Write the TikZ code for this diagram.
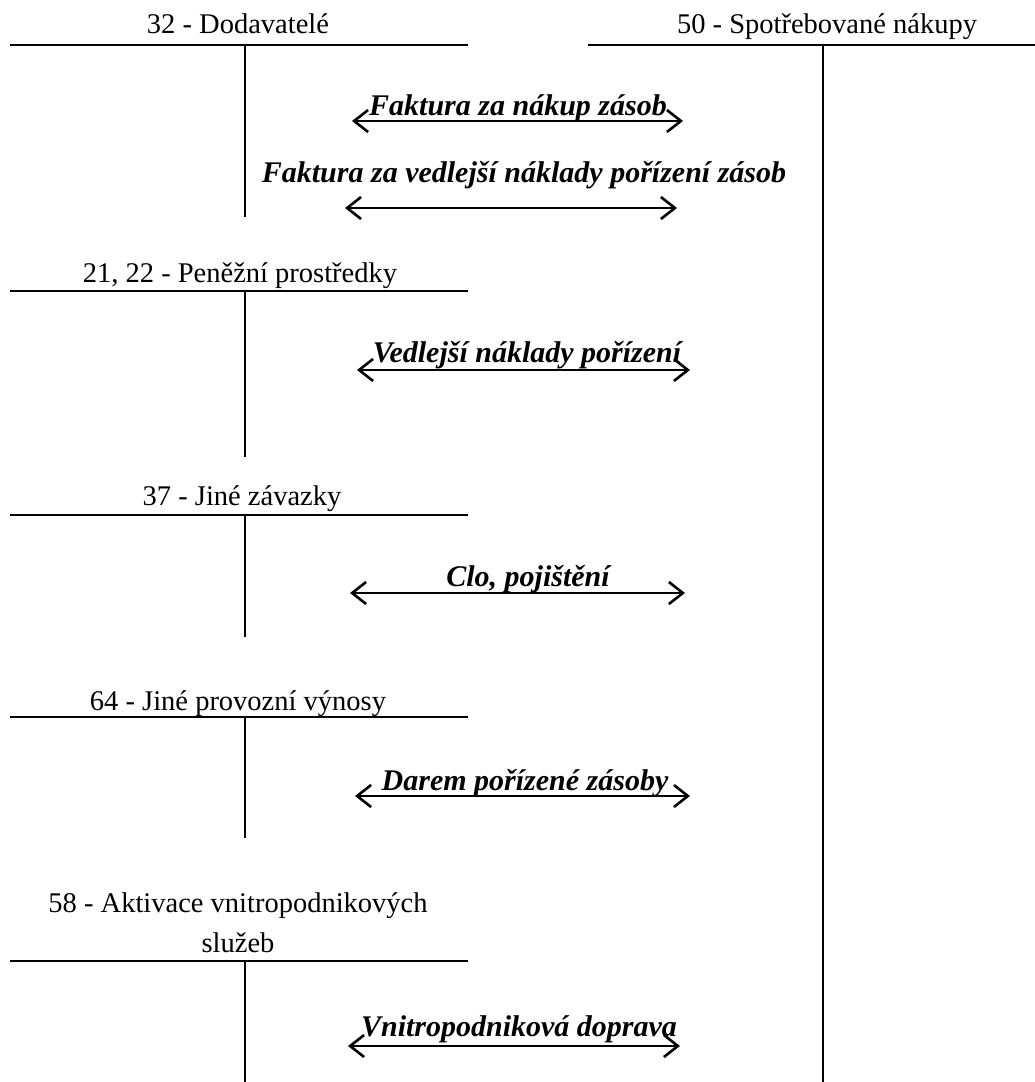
\documentclass[tikz,border=0pt]{standalone}
\usepackage{fontspec}
\setmainfont{Liberation Serif}
\usetikzlibrary{arrows.meta}
\begin{document}
\begin{tikzpicture}[x=1pt, y=-1pt,
    acct/.style={line width=1.6pt},
    flow/.style={{Straight Barb[length=14pt,width=22pt]}-{Straight Barb[length=14pt,width=22pt]}, line width=2.6pt},
    title/.style={font=\fontsize{28.5}{40}\selectfont, inner sep=0pt, anchor=base, align=center},
    entry/.style={font=\fontsize{30}{36}\selectfont\bfseries\itshape, inner sep=0pt, anchor=base}]
    \useasboundingbox (0,0) rectangle (1035,1082);
    % accounts
    \node[title] (t32) at (238,33) {32 - Dodavatelé};
    \draw[acct] (10,45) -- (468,45);
    \draw[acct] (245,45) -- (245,217);
    \node[title] (t50) at (827,33) {50 - Spotřebované nákupy};
    \draw[acct] (588,45) -- (1035,45);
    \draw[acct] (823,45) -- (823,1082);
    \node[title] (t21) at (240,282) {21, 22 - Peněžní prostředky};
    \draw[acct] (10,291) -- (468,291);
    \draw[acct] (245,291) -- (245,457);
    \node[title] (t37) at (242,505) {37 - Jiné závazky};
    \draw[acct] (10,515) -- (468,515);
    \draw[acct] (245,515) -- (245,637);
    \node[title] (t64) at (238,710) {64 - Jiné provozní výnosy};
    \draw[acct] (10,717) -- (468,717);
    \draw[acct] (245,717) -- (245,838);
    \node[title] (t58) at (238,952) {58 - Aktivace vnitropodnikových\\služeb};
    \draw[acct] (10,961) -- (468,961);
    \draw[acct] (245,961) -- (245,1082);
    % postings
    \coordinate (f1a) at (352,121); \coordinate (f1b) at (683,121);
    \draw[flow] (f1a) -- (f1b);
    \node[entry] (e1) at (518,115) {Faktura za nákup zásob};
    \coordinate (f2a) at (345,208); \coordinate (f2b) at (677,208);
    \draw[flow] (f2a) -- (f2b);
    \node[entry] (e2) at (524,182) {Faktura za vedlejší náklady pořízení zásob};
    \coordinate (f3a) at (357,370); \coordinate (f3b) at (690,370);
    \draw[flow] (f3a) -- (f3b);
    \node[entry] (e3) at (527,362) {Vedlejší náklady pořízení};
    \coordinate (f4a) at (350,593); \coordinate (f4b) at (685,593);
    \draw[flow] (f4a) -- (f4b);
    \node[entry] (e4) at (528,586) {Clo, pojištění};
    \coordinate (f5a) at (355,796); \coordinate (f5b) at (690,796);
    \draw[flow] (f5a) -- (f5b);
    \node[entry] (e5) at (525,790) {Darem pořízené zásoby};
    \coordinate (f6a) at (348,1046); \coordinate (f6b) at (680,1046);
    \draw[flow] (f6a) -- (f6b);
    \node[entry] (e6) at (519,1036) {Vnitropodniková doprava};
\end{tikzpicture}
\end{document}
